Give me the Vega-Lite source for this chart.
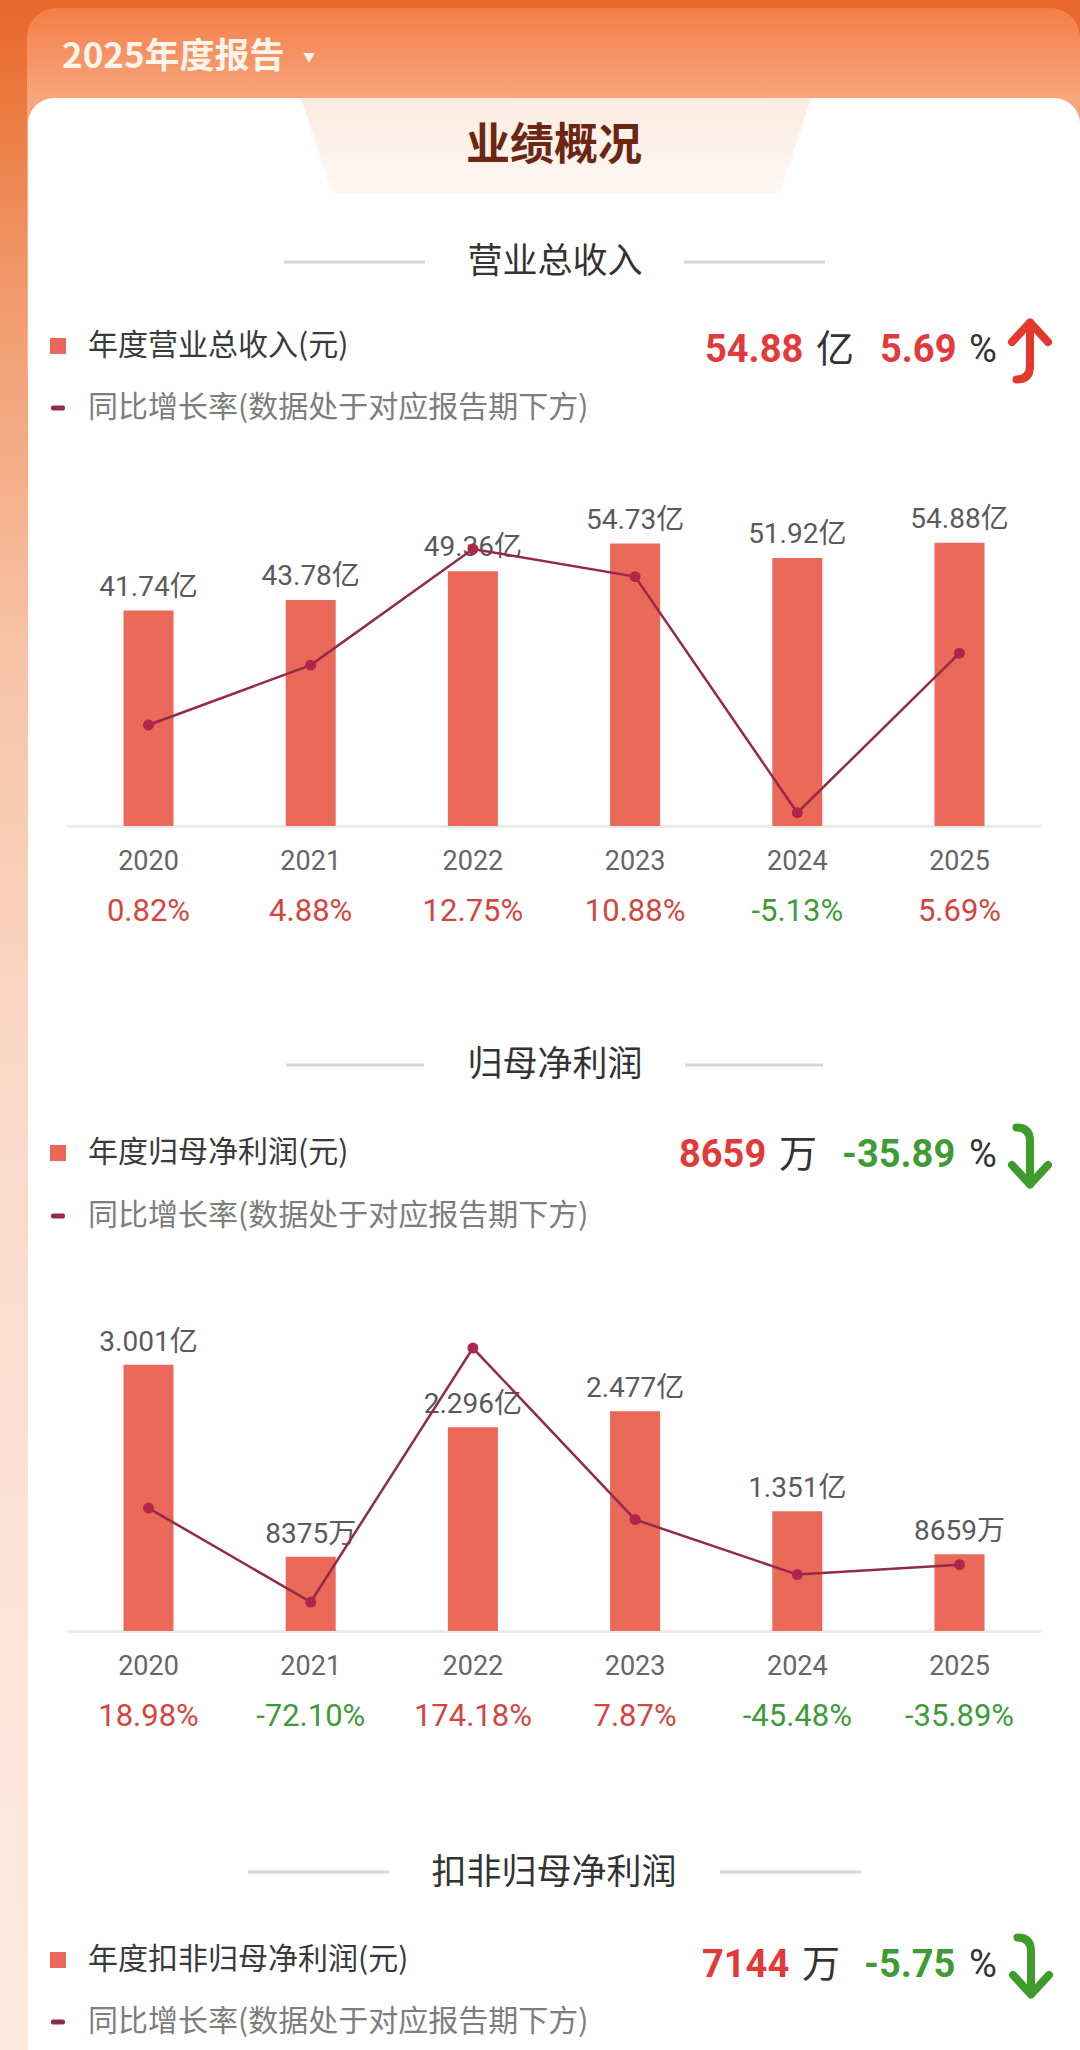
{
  "$schema": "https://vega.github.io/schema/vega-lite/v6.json",
  "width": 1080,
  "height": 2050,
  "autosize": {"type": "fit", "contains": "padding"},
  "padding": 0,
  "background": "#fde9de",
  "config": {"view": {"stroke": null}, "text": {"font": "Noto Sans CJK SC"}},
  "datasets": {
    "rev": [
      {"year": "2020", "value": 41.74, "label": "41.74亿", "growth": 0.82, "glabel": "0.82%"},
      {"year": "2021", "value": 43.78, "label": "43.78亿", "growth": 4.88, "glabel": "4.88%"},
      {"year": "2022", "value": 49.36, "label": "49.36亿", "growth": 12.75, "glabel": "12.75%"},
      {"year": "2023", "value": 54.73, "label": "54.73亿", "growth": 10.88, "glabel": "10.88%"},
      {"year": "2024", "value": 51.92, "label": "51.92亿", "growth": -5.13, "glabel": "-5.13%"},
      {"year": "2025", "value": 54.88, "label": "54.88亿", "growth": 5.69, "glabel": "5.69%"}
    ],
    "np": [
      {"year": "2020", "value": 3.001, "label": "3.001亿", "growth": 18.98, "glabel": "18.98%"},
      {"year": "2021", "value": 0.8375, "label": "8375万", "growth": -72.10, "glabel": "-72.10%"},
      {"year": "2022", "value": 2.296, "label": "2.296亿", "growth": 174.18, "glabel": "174.18%"},
      {"year": "2023", "value": 2.477, "label": "2.477亿", "growth": 7.87, "glabel": "7.87%"},
      {"year": "2024", "value": 1.351, "label": "1.351亿", "growth": -45.48, "glabel": "-45.48%"},
      {"year": "2025", "value": 0.8659, "label": "8659万", "growth": -35.89, "glabel": "-35.89%"}
    ],
    "one": [{}]
  },
  "resolve": {"scale": {"y": "independent"}},
  "layer": [
    {"data": {"name": "one"}, "mark": {"type": "rect", "x": 0, "x2": 1080, "y": 0, "y2": 2050,
      "fill": {"gradient": "linear", "x1": 0, "y1": 0, "x2": 0, "y2": 1, "stops": [
        {"offset": 0, "color": "#e8652b"}, {"offset": 0.05, "color": "#ec7a40"}, {"offset": 0.146, "color": "#f19b6e"},
        {"offset": 0.317, "color": "#f7c3a5"}, {"offset": 0.51, "color": "#fad8c6"}, {"offset": 0.77, "color": "#fce3d5"}, {"offset": 1, "color": "#fde9de"}]}}, "encoding": {}},
    {"data": {"name": "one"}, "mark": {"type": "rect", "x": 27, "x2": 1080, "y": 8, "y2": 400, "cornerRadius": 30,
      "fill": {"gradient": "linear", "x1": 0, "y1": 0, "x2": 0, "y2": 1, "stops": [
        {"offset": 0, "color": "#f47e47"}, {"offset": 0.23, "color": "#f7a57c"}, {"offset": 1, "color": "#f9b896"}]}}, "encoding": {}},
    {"data": {"name": "one"}, "mark": {"type": "rect", "x": 28, "x2": 1080, "y": 98, "y2": 2150, "cornerRadius": 26, "fill": "#ffffff"}, "encoding": {}},
    {"data": {"name": "one"}, "mark": {"type": "point", "shape": "M-1,-0.1863L1,-0.1863L0.8784,0.1863L-0.8784,0.1863Z", "x": 556, "y": 145.5, "size": 260100, "filled": true, "opacity": 1, "strokeWidth": 0,
      "fill": {"gradient": "linear", "x1": 0, "y1": 0, "x2": 0, "y2": 1, "stops": [{"offset": 0, "color": "#fcebdf"}, {"offset": 1, "color": "#fef8f4"}]}}, "encoding": {}},
    {"data": {"name": "one"}, "mark": {"type": "text", "text": "2025年度报告", "x": 62, "y": 57, "align": "left", "baseline": "middle", "fontSize": 35, "fontWeight": "bold", "fill": "#fff4ea"}, "encoding": {}},
    {"data": {"name": "one"}, "mark": {"type": "point", "shape": "triangle-down", "x": 309, "y": 58, "size": 130, "filled": true, "opacity": 1, "fill": "#fff2e6", "strokeWidth": 0}, "encoding": {}},
    {"data": {"name": "one"}, "mark": {"type": "text", "text": "业绩概况", "x": 554, "y": 147, "align": "center", "baseline": "middle", "fontSize": 44, "fontWeight": "bold", "fill": "#6b2713"}, "encoding": {}},

    {"data": {"name": "one"}, "mark": {"type": "text", "text": "营业总收入", "x": 555, "y": 262, "align": "center", "baseline": "middle", "fontSize": 35, "fill": "#333333"}, "encoding": {}},
    {"data": {"name": "one"}, "mark": {"type": "rect", "x": 284, "x2": 425, "y": 260.5, "y2": 263.5, "fill": "#d6d6d6"}, "encoding": {}},
    {"data": {"name": "one"}, "mark": {"type": "rect", "x": 684, "x2": 825, "y": 260.5, "y2": 263.5, "fill": "#d6d6d6"}, "encoding": {}},
    {"data": {"name": "one"}, "mark": {"type": "rect", "x": 50, "x2": 66, "y": 338, "y2": 354, "fill": "#e9685a"}, "encoding": {}},
    {"data": {"name": "one"}, "mark": {"type": "rect", "x": 51, "x2": 65, "y": 405.5, "y2": 410.5, "cornerRadius": 2, "fill": "#8e2c4b"}, "encoding": {}},
    {"data": {"name": "one"}, "mark": {"type": "text", "text": "年度营业总收入(元)", "x": 88, "y": 346, "align": "left", "baseline": "middle", "fontSize": 30, "fill": "#3a3a3a"}, "encoding": {}},
    {"data": {"name": "one"}, "mark": {"type": "text", "text": "同比增长率(数据处于对应报告期下方)", "x": 88, "y": 408, "align": "left", "baseline": "middle", "fontSize": 30, "fill": "#7d7d7d"}, "encoding": {}},
    {"data": {"name": "one"}, "mark": {"type": "text", "text": "54.88", "x": 705, "y": 351, "align": "left", "baseline": "middle", "fontSize": 38, "fontWeight": "bold", "font": "Roboto", "fill": "#e23a3a"}, "encoding": {}},
    {"data": {"name": "one"}, "mark": {"type": "text", "text": "亿", "x": 816, "y": 351, "align": "left", "baseline": "middle", "fontSize": 38, "fill": "#333333"}, "encoding": {}},
    {"data": {"name": "one"}, "mark": {"type": "text", "text": "5.69", "x": 880, "y": 351, "align": "left", "baseline": "middle", "fontSize": 38, "fontWeight": "bold", "font": "Roboto", "fill": "#e23a3a"}, "encoding": {}},
    {"data": {"name": "one"}, "mark": {"type": "text", "text": "%", "x": 969, "y": 351, "align": "left", "baseline": "middle", "fontSize": 38, "font": "Roboto", "fill": "#333333"}, "encoding": {}},
    {"data": {"name": "one"}, "mark": {"type": "point", "shape": "M0,-0.95L0,0.5Q0,0.95 -0.45,0.95M-0.6,-0.3L0,-0.95L0.6,-0.3", "x": 1030, "y": 351, "size": 3600, "filled": false, "opacity": 1, "stroke": "#e5372b", "strokeWidth": 8, "strokeCap": "round", "strokeJoin": "round"}, "encoding": {}},

    {"data": {"name": "one"}, "mark": {"type": "rect", "x": 67, "x2": 1041, "y": 825, "y2": 828, "fill": "#ebebeb"}, "encoding": {}},
    {"data": {"name": "rev"}, "mark": {"type": "bar", "color": "#eb6959"},
      "encoding": {
        "x": {"field": "year", "type": "nominal", "axis": null, "scale": {"range": [67, 1041], "paddingInner": 0.6917, "paddingOuter": 0.3483}},
        "y": {"field": "value", "type": "quantitative", "axis": null, "scale": {"domain": [0, 60], "range": [826, 516.3]}}}},
    {"data": {"name": "rev"}, "mark": {"type": "text", "dy": -23, "fontSize": 28, "font": "Roboto, Noto Sans CJK SC", "fill": "#5a5a5a", "baseline": "middle"},
      "encoding": {
        "x": {"field": "year", "type": "nominal", "axis": null},
        "y": {"field": "value", "type": "quantitative", "axis": null, "scale": {"domain": [0, 60], "range": [826, 516.3]}},
        "text": {"field": "label"}}},
    {"data": {"name": "rev"}, "mark": {"type": "line", "color": "#932b48", "strokeWidth": 2.5},
      "encoding": {
        "x": {"field": "year", "type": "nominal", "axis": null},
        "y": {"field": "growth", "type": "quantitative", "axis": null, "scale": {"domain": [-6.03, 14.97], "range": [826, 516.3]}}}},
    {"data": {"name": "rev"}, "mark": {"type": "point", "filled": true, "size": 120, "color": "#b1244c", "opacity": 1},
      "encoding": {
        "x": {"field": "year", "type": "nominal", "axis": null},
        "y": {"field": "growth", "type": "quantitative", "axis": null, "scale": {"domain": [-6.03, 14.97], "range": [826, 516.3]}}}},
    {"data": {"name": "rev"}, "mark": {"type": "text", "y": 862, "fontSize": 27, "font": "Roboto", "fill": "#666666", "baseline": "middle"},
      "encoding": {"x": {"field": "year", "type": "nominal", "axis": null}, "text": {"field": "year"}}},
    {"data": {"name": "rev"}, "mark": {"type": "text", "y": 912, "fontSize": 31, "font": "Roboto", "baseline": "middle"},
      "encoding": {"x": {"field": "year", "type": "nominal", "axis": null}, "text": {"field": "glabel"},
        "color": {"condition": {"test": "datum.growth < 0", "value": "#3f9a3a"}, "value": "#d5453f"}}},

    {"data": {"name": "one"}, "mark": {"type": "text", "text": "归母净利润", "x": 555, "y": 1065, "align": "center", "baseline": "middle", "fontSize": 35, "fill": "#333333"}, "encoding": {}},
    {"data": {"name": "one"}, "mark": {"type": "rect", "x": 286, "x2": 424, "y": 1063.5, "y2": 1066.5, "fill": "#d6d6d6"}, "encoding": {}},
    {"data": {"name": "one"}, "mark": {"type": "rect", "x": 685, "x2": 823, "y": 1063.5, "y2": 1066.5, "fill": "#d6d6d6"}, "encoding": {}},
    {"data": {"name": "one"}, "mark": {"type": "rect", "x": 50, "x2": 66, "y": 1145, "y2": 1161, "fill": "#e9685a"}, "encoding": {}},
    {"data": {"name": "one"}, "mark": {"type": "rect", "x": 51, "x2": 65, "y": 1213.5, "y2": 1218.5, "cornerRadius": 2, "fill": "#8e2c4b"}, "encoding": {}},
    {"data": {"name": "one"}, "mark": {"type": "text", "text": "年度归母净利润(元)", "x": 88, "y": 1153, "align": "left", "baseline": "middle", "fontSize": 30, "fill": "#3a3a3a"}, "encoding": {}},
    {"data": {"name": "one"}, "mark": {"type": "text", "text": "同比增长率(数据处于对应报告期下方)", "x": 88, "y": 1216, "align": "left", "baseline": "middle", "fontSize": 30, "fill": "#7d7d7d"}, "encoding": {}},
    {"data": {"name": "one"}, "mark": {"type": "text", "text": "8659", "x": 679, "y": 1156, "align": "left", "baseline": "middle", "fontSize": 38, "fontWeight": "bold", "font": "Roboto", "fill": "#e23a3a"}, "encoding": {}},
    {"data": {"name": "one"}, "mark": {"type": "text", "text": "万", "x": 779, "y": 1156, "align": "left", "baseline": "middle", "fontSize": 38, "fill": "#333333"}, "encoding": {}},
    {"data": {"name": "one"}, "mark": {"type": "text", "text": "-35.89", "x": 842, "y": 1156, "align": "left", "baseline": "middle", "fontSize": 38, "fontWeight": "bold", "font": "Roboto", "fill": "#3f9b35"}, "encoding": {}},
    {"data": {"name": "one"}, "mark": {"type": "text", "text": "%", "x": 969, "y": 1156, "align": "left", "baseline": "middle", "fontSize": 38, "font": "Roboto", "fill": "#333333"}, "encoding": {}},
    {"data": {"name": "one"}, "mark": {"type": "point", "shape": "M-0.45,-0.95Q0,-0.95 0,-0.5L0,0.95M-0.6,0.3L0,0.95L0.6,0.3", "x": 1030, "y": 1156, "size": 3600, "filled": false, "opacity": 1, "stroke": "#3f9c2a", "strokeWidth": 8, "strokeCap": "round", "strokeJoin": "round"}, "encoding": {}},

    {"data": {"name": "one"}, "mark": {"type": "rect", "x": 67, "x2": 1041, "y": 1630, "y2": 1633, "fill": "#ebebeb"}, "encoding": {}},
    {"data": {"name": "np"}, "mark": {"type": "bar", "color": "#eb6959"},
      "encoding": {
        "x": {"field": "year", "type": "nominal", "axis": null},
        "y": {"field": "value", "type": "quantitative", "axis": null, "scale": {"domain": [0, 3.5], "range": [1631, 1320.5]}}}},
    {"data": {"name": "np"}, "mark": {"type": "text", "dy": -22, "fontSize": 28, "font": "Roboto, Noto Sans CJK SC", "fill": "#5a5a5a", "baseline": "middle"},
      "encoding": {
        "x": {"field": "year", "type": "nominal", "axis": null},
        "y": {"field": "value", "type": "quantitative", "axis": null, "scale": {"domain": [0, 3.5], "range": [1631, 1320.5]}},
        "text": {"field": "label"}}},
    {"data": {"name": "np"}, "mark": {"type": "line", "color": "#932b48", "strokeWidth": 2.5},
      "encoding": {
        "x": {"field": "year", "type": "nominal", "axis": null},
        "y": {"field": "growth", "type": "quantitative", "axis": null, "scale": {"domain": [-100.2, 200.9], "range": [1631, 1320.5]}}}},
    {"data": {"name": "np"}, "mark": {"type": "point", "filled": true, "size": 120, "color": "#b1244c", "opacity": 1},
      "encoding": {
        "x": {"field": "year", "type": "nominal", "axis": null},
        "y": {"field": "growth", "type": "quantitative", "axis": null, "scale": {"domain": [-100.2, 200.9], "range": [1631, 1320.5]}}}},
    {"data": {"name": "np"}, "mark": {"type": "text", "y": 1667, "fontSize": 27, "font": "Roboto", "fill": "#666666", "baseline": "middle"},
      "encoding": {"x": {"field": "year", "type": "nominal", "axis": null}, "text": {"field": "year"}}},
    {"data": {"name": "np"}, "mark": {"type": "text", "y": 1717, "fontSize": 31, "font": "Roboto", "baseline": "middle"},
      "encoding": {"x": {"field": "year", "type": "nominal", "axis": null}, "text": {"field": "glabel"},
        "color": {"condition": {"test": "datum.growth < 0", "value": "#3f9a3a"}, "value": "#d5453f"}}},

    {"data": {"name": "one"}, "mark": {"type": "text", "text": "扣非归母净利润", "x": 554, "y": 1873, "align": "center", "baseline": "middle", "fontSize": 35, "fill": "#333333"}, "encoding": {}},
    {"data": {"name": "one"}, "mark": {"type": "rect", "x": 248, "x2": 389, "y": 1870.5, "y2": 1873.5, "fill": "#d6d6d6"}, "encoding": {}},
    {"data": {"name": "one"}, "mark": {"type": "rect", "x": 720, "x2": 861, "y": 1870.5, "y2": 1873.5, "fill": "#d6d6d6"}, "encoding": {}},
    {"data": {"name": "one"}, "mark": {"type": "rect", "x": 50, "x2": 66, "y": 1952, "y2": 1968, "fill": "#e9685a"}, "encoding": {}},
    {"data": {"name": "one"}, "mark": {"type": "rect", "x": 51, "x2": 65, "y": 2019.5, "y2": 2024.5, "cornerRadius": 2, "fill": "#8e2c4b"}, "encoding": {}},
    {"data": {"name": "one"}, "mark": {"type": "text", "text": "年度扣非归母净利润(元)", "x": 88, "y": 1960, "align": "left", "baseline": "middle", "fontSize": 30, "fill": "#3a3a3a"}, "encoding": {}},
    {"data": {"name": "one"}, "mark": {"type": "text", "text": "同比增长率(数据处于对应报告期下方)", "x": 88, "y": 2022, "align": "left", "baseline": "middle", "fontSize": 30, "fill": "#7d7d7d"}, "encoding": {}},
    {"data": {"name": "one"}, "mark": {"type": "text", "text": "7144", "x": 702, "y": 1966, "align": "left", "baseline": "middle", "fontSize": 38, "fontWeight": "bold", "font": "Roboto", "fill": "#e23a3a"}, "encoding": {}},
    {"data": {"name": "one"}, "mark": {"type": "text", "text": "万", "x": 802, "y": 1966, "align": "left", "baseline": "middle", "fontSize": 38, "fill": "#333333"}, "encoding": {}},
    {"data": {"name": "one"}, "mark": {"type": "text", "text": "-5.75", "x": 864, "y": 1966, "align": "left", "baseline": "middle", "fontSize": 38, "fontWeight": "bold", "font": "Roboto", "fill": "#3f9b35"}, "encoding": {}},
    {"data": {"name": "one"}, "mark": {"type": "text", "text": "%", "x": 969, "y": 1966, "align": "left", "baseline": "middle", "fontSize": 38, "font": "Roboto", "fill": "#333333"}, "encoding": {}},
    {"data": {"name": "one"}, "mark": {"type": "point", "shape": "M-0.45,-0.95Q0,-0.95 0,-0.5L0,0.95M-0.6,0.3L0,0.95L0.6,0.3", "x": 1031, "y": 1966, "size": 3600, "filled": false, "opacity": 1, "stroke": "#3f9c2a", "strokeWidth": 8, "strokeCap": "round", "strokeJoin": "round"}, "encoding": {}}
  ]
}
